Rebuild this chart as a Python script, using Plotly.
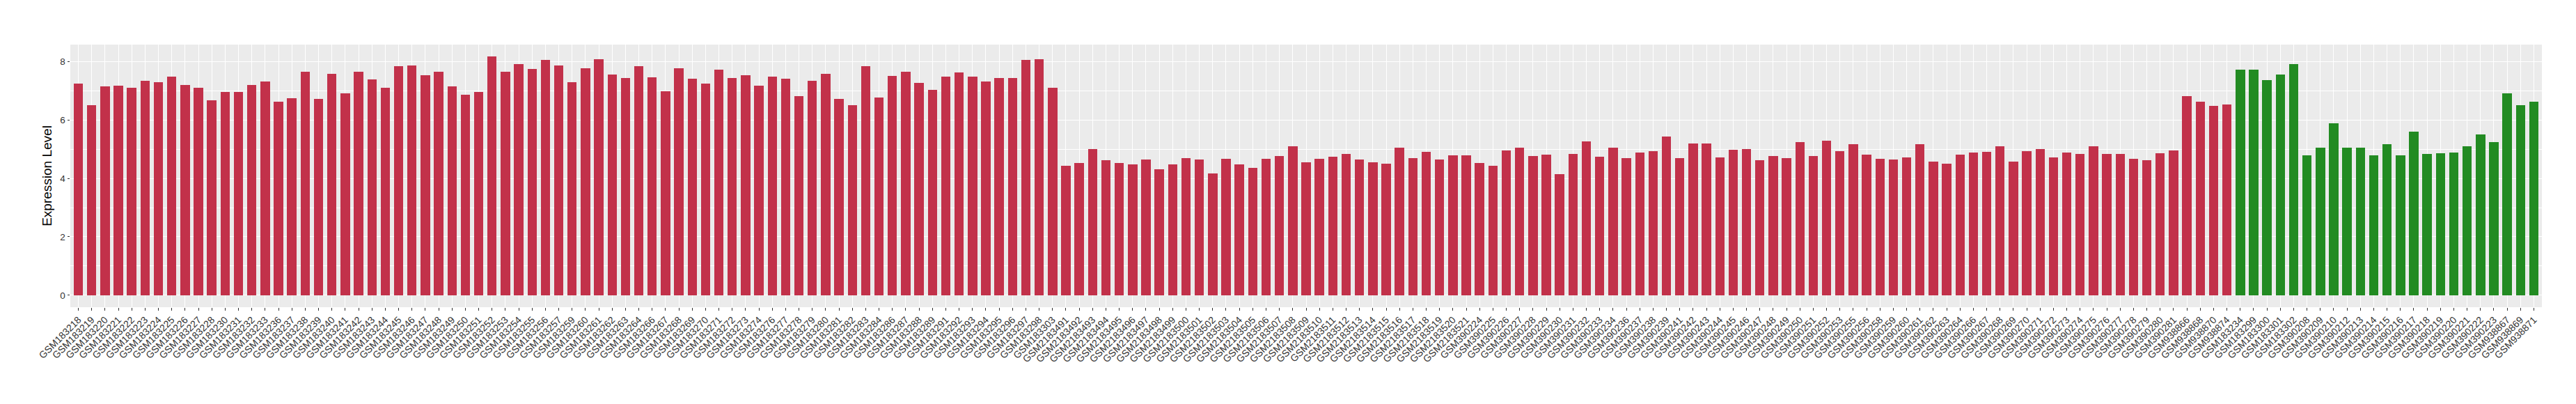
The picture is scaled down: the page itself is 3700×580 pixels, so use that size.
import plotly.graph_objects as go

samples = [
    "GSM183218","GSM183219","GSM183220","GSM183221","GSM183222","GSM183223","GSM183224","GSM183225",
    "GSM183226","GSM183227","GSM183228","GSM183230","GSM183231","GSM183232","GSM183233","GSM183236",
    "GSM183237","GSM183238","GSM183239","GSM183240","GSM183241","GSM183242","GSM183243","GSM183244",
    "GSM183245","GSM183246","GSM183247","GSM183248","GSM183249","GSM183250","GSM183251","GSM183252",
    "GSM183253","GSM183254","GSM183255","GSM183256","GSM183257","GSM183259","GSM183260","GSM183261",
    "GSM183262","GSM183263","GSM183264","GSM183266","GSM183267","GSM183268","GSM183269","GSM183270",
    "GSM183271","GSM183272","GSM183273","GSM183274","GSM183276","GSM183277","GSM183278","GSM183279",
    "GSM183280","GSM183281","GSM183282","GSM183283","GSM183284","GSM183286","GSM183287","GSM183288",
    "GSM183289","GSM183291","GSM183292","GSM183293","GSM183294","GSM183295","GSM183296","GSM183297",
    "GSM183298","GSM183303",
    "GSM2183491","GSM2183492","GSM2183493","GSM2183494","GSM2183495","GSM2183496","GSM2183497",
    "GSM2183498","GSM2183499","GSM2183500","GSM2183501","GSM2183502","GSM2183503","GSM2183504",
    "GSM2183505","GSM2183506","GSM2183507","GSM2183508","GSM2183509","GSM2183510","GSM2183511",
    "GSM2183512","GSM2183513","GSM2183514","GSM2183515","GSM2183516","GSM2183517","GSM2183518",
    "GSM2183519","GSM2183520","GSM2183521",
    "GSM390224","GSM390225","GSM390226","GSM390227","GSM390228","GSM390229","GSM390230","GSM390231",
    "GSM390232","GSM390233","GSM390234","GSM390236","GSM390237","GSM390238","GSM390239","GSM390241",
    "GSM390242","GSM390243","GSM390244","GSM390245","GSM390246","GSM390247","GSM390248","GSM390249",
    "GSM390250","GSM390251","GSM390252","GSM390253","GSM390255","GSM390256","GSM390258","GSM390259",
    "GSM390260","GSM390261","GSM390262","GSM390263","GSM390264","GSM390266","GSM390267","GSM390268",
    "GSM390269","GSM390270","GSM390271","GSM390272","GSM390273","GSM390274","GSM390275","GSM390276",
    "GSM390277","GSM390278","GSM390279","GSM390280","GSM390281",
    "GSM938866","GSM938868","GSM938870","GSM938874",
    "GSM183234","GSM183299","GSM183300","GSM183301","GSM183302",
    "GSM390208","GSM390209","GSM390210","GSM390212","GSM390213","GSM390214","GSM390215","GSM390216",
    "GSM390217","GSM390218","GSM390219","GSM390220","GSM390221","GSM390222","GSM390223",
    "GSM938867","GSM938869","GSM938871",
]

expression = [
    7.25, 6.51, 7.14, 7.18, 7.11, 7.34, 7.30, 7.48,
    7.20, 7.11, 6.68, 6.95, 6.95, 7.20, 7.32, 6.63,
    6.74, 7.64, 6.72, 7.57, 6.92, 7.66, 7.39, 7.11,
    7.85, 7.87, 7.52, 7.66, 7.14, 6.86, 6.95, 8.17,
    7.64, 7.91, 7.75, 8.06, 7.87, 7.30, 7.78, 8.08,
    7.55, 7.43, 7.83, 7.45, 6.97, 7.78, 7.41, 7.25,
    7.73, 7.43, 7.52, 7.18, 7.48, 7.41, 6.81, 7.34,
    7.57, 6.72, 6.51, 7.83, 6.76, 7.50, 7.66, 7.27,
    7.04, 7.48, 7.62, 7.48, 7.32, 7.43, 7.43, 8.06,
    8.08, 7.09,
    4.42, 4.53, 5.01, 4.63, 4.53, 4.49, 4.65,
    4.30, 4.49, 4.70, 4.65, 4.17, 4.67, 4.49,
    4.37, 4.67, 4.77, 5.11, 4.55, 4.67, 4.74,
    4.83, 4.65, 4.55, 4.51, 5.06, 4.70, 4.90,
    4.65, 4.78, 4.78,
    4.53, 4.44, 4.95, 5.06, 4.77, 4.81, 4.14, 4.83,
    5.27, 4.74, 5.04, 4.70, 4.88, 4.93, 5.43, 4.70,
    5.20, 5.20, 4.72, 4.97, 5.01, 4.63, 4.77, 4.70,
    5.23, 4.77, 5.29, 4.93, 5.16, 4.81, 4.67, 4.65,
    4.72, 5.16, 4.58, 4.51, 4.81, 4.88, 4.90, 5.11,
    4.58, 4.93, 5.01, 4.72, 4.88, 4.83, 5.11, 4.83,
    4.83, 4.67, 4.63, 4.86, 4.95,
    6.81, 6.63, 6.49, 6.53,
    7.73, 7.73, 7.37, 7.55, 7.91,
    4.78, 5.04, 5.89, 5.04, 5.04, 4.78, 5.16, 4.78,
    5.59, 4.83, 4.86, 4.88, 5.11, 5.50, 5.23,
    6.91, 6.51, 6.63,
]

green_samples = [
    "GSM183234","GSM183299","GSM183300","GSM183301","GSM183302",
    "GSM390208","GSM390209","GSM390210","GSM390212","GSM390213","GSM390214","GSM390215","GSM390216",
    "GSM390217","GSM390218","GSM390219","GSM390220","GSM390221","GSM390222","GSM390223",
    "GSM938867","GSM938869","GSM938871",
]

y_ticks = [0, 2, 4, 6, 8]
y_minor = [1, 3, 5, 7]

RED = "#C2314A"
GREEN = "#228B22"
colors = [GREEN if s in green_samples else RED for s in samples]

fig = go.Figure(go.Bar(
    x=samples, y=expression, width=0.7,
    marker=dict(color=colors, line=dict(width=0)),
))

n = len(samples)
ymax = max(expression)
pad = 0.05 * ymax

fig.update_layout(
    template="none",
    width=3700, height=580,
    margin=dict(l=93, r=57, t=56, b=147, pad=0, autoexpand=False),
    paper_bgcolor="white", plot_bgcolor="#EBEBEB",
    font=dict(family="Liberation Sans, Arial, sans-serif", color="#333333"),
    showlegend=False, bargap=0,
)
fig.update_xaxes(
    type="category", categoryorder="array", categoryarray=samples,
    range=[-0.6, n - 1 + 0.6], autorange=False, automargin=False,
    showgrid=True, gridcolor="white", gridwidth=1.1,
    ticks="outside", ticklen=3.5, tickwidth=1, tickcolor="#333333",
    tickangle=-45, tickfont=dict(size=14, color="#333333"),
    showline=False, zeroline=False,
)
fig.update_yaxes(
    range=[-pad, ymax + pad], autorange=False, automargin=False,
    tickmode="array", tickvals=y_ticks,
    showgrid=True, gridcolor="white", gridwidth=1.1,
    minor=dict(tickmode="array", tickvals=y_minor, showgrid=True, gridcolor="white", gridwidth=0.55, ticks=""),
    ticks="outside", ticklen=3.5, tickwidth=1, tickcolor="#333333",
    tickfont=dict(size=13.5, color="#333333"),
    showline=False, zeroline=False,
    title=dict(text="Expression Level", font=dict(size=19, color="black"), standoff=6),
)

fig.write_html("out.html")
